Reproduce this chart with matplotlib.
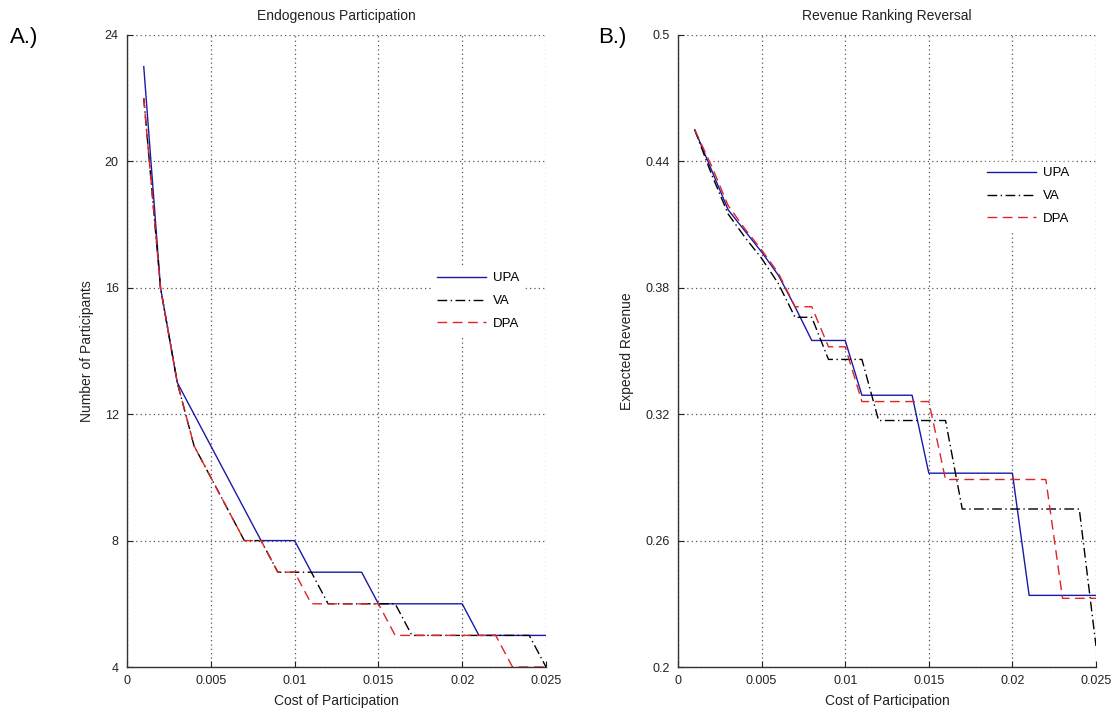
import numpy as np
import matplotlib.pyplot as plt

plt.rcParams['font.family'] = ['Liberation Sans', 'DejaVu Sans']

# cost grid (0.001 .. 0.025)
cost = [0.001, 0.002, 0.003, 0.004, 0.005, 0.006, 0.007, 0.008, 0.009, 0.010,
        0.011, 0.012, 0.013, 0.014, 0.015, 0.016, 0.017, 0.018, 0.019, 0.020,
        0.021, 0.022, 0.023, 0.024, 0.025]

# A.) number of participants
n_upa = [23, 16, 13, 12, 11, 10, 9, 8, 8, 8, 7, 7, 7, 7, 6, 6, 6, 6, 6, 6, 5, 5, 5, 5, 5]
n_va = [22, 16, 13, 11, 10, 9, 8, 8, 7, 7, 7, 6, 6, 6, 6, 6, 5, 5, 5, 5, 5, 5, 5, 5, 4]
n_dpa = [22, 16, 13, 11, 10, 9, 8, 8, 7, 7, 6, 6, 6, 6, 6, 5, 5, 5, 5, 5, 5, 5, 4, 4, 4]

# B.) expected revenue
r_upa = [0.455, 0.436, 0.417, 0.407, 0.397, 0.386, 0.371, 0.355, 0.355, 0.355,
         0.329, 0.329, 0.329, 0.329, 0.292, 0.292, 0.292, 0.292, 0.292, 0.292,
         0.234, 0.234, 0.234, 0.234, 0.234]
r_va = [0.455, 0.434, 0.415, 0.404, 0.394, 0.382, 0.366, 0.366, 0.346, 0.346,
        0.346, 0.317, 0.317, 0.317, 0.317, 0.317, 0.275, 0.275, 0.275, 0.275,
        0.275, 0.275, 0.275, 0.275, 0.21]
r_dpa = [0.455, 0.438, 0.419, 0.408, 0.398, 0.387, 0.371, 0.371, 0.352, 0.352,
         0.326, 0.326, 0.326, 0.326, 0.326, 0.289, 0.289, 0.289, 0.289, 0.289,
         0.289, 0.289, 0.2326, 0.2326, 0.2326]

xticks = [0, 0.005, 0.01, 0.015, 0.02, 0.025]
xtick_labels = ['0', '0.005', '0.01', '0.015', '0.02', '0.025']
yticks_a = [4, 8, 12, 16, 20, 24]
yticks_b = [0.2, 0.26, 0.32, 0.38, 0.44, 0.5]
ytick_labels_b = ['0.2', '0.26', '0.32', '0.38', '0.44', '0.5']

W, H = 1117, 719
fig = plt.figure(figsize=(W / 100, H / 100), dpi=100)

blue = '#1a1aa8'
red = '#e02424'
dash = (0, (7, 4))
dashdot = (0, (7, 2.5, 1, 2.5))


def style(ax):
    for s in ['top', 'right']:
        ax.spines[s].set_visible(False)
    for s in ['left', 'bottom']:
        ax.spines[s].set_color('#333333')
        ax.spines[s].set_linewidth(1.0)
    ax.tick_params(direction='in', length=4, labelsize=9, colors='#222222',
                   top=False, right=False, pad=6)
    ax.grid(True, color='#555555', linestyle=(0, (1, 2.5)), linewidth=0.9)
    ax.set_xlim(0, 0.025)
    ax.set_xticks(xticks)
    ax.set_xticklabels(xtick_labels)
    ax.set_xlabel('Cost of Participation', fontsize=10, color='#222222', labelpad=5)


def add_legend(ax, x, y):
    ax.legend(loc='center left', bbox_to_anchor=(x / W, 1 - y / H),
              bbox_transform=fig.transFigure, fontsize=9.5, frameon=True,
              fancybox=False, edgecolor='white', facecolor='white',
              framealpha=1, handlelength=3.7, handletextpad=0.5,
              labelspacing=0.8, borderaxespad=0)


axA = fig.add_axes([127 / W, 52 / H, 419 / W, 632 / H])
axA.plot(cost, n_upa, color=blue, lw=1.0, label='UPA')
axA.plot(cost, n_va, color='black', lw=1.0, linestyle=dashdot, label='VA')
axA.plot(cost, n_dpa, color=red, lw=1.0, linestyle=dash, label='DPA')
style(axA)
axA.set_ylim(4, 24)
axA.set_yticks(yticks_a)
axA.set_ylabel('Number of Participants', fontsize=10, color='#222222', labelpad=8)
axA.set_title('Endogenous Participation', fontsize=10, color='#222222', pad=11)
add_legend(axA, 432, 301)

axB = fig.add_axes([678 / W, 52 / H, 418 / W, 632 / H])
axB.plot(cost, r_upa, color=blue, lw=1.0, label='UPA')
axB.plot(cost, r_va, color='black', lw=1.0, linestyle=dashdot, label='VA')
axB.plot(cost, r_dpa, color=red, lw=1.0, linestyle=dash, label='DPA')
style(axB)
axB.set_ylim(0.2, 0.5)
axB.set_yticks(yticks_b)
axB.set_yticklabels(ytick_labels_b)
axB.set_ylabel('Expected Revenue', fontsize=10, color='#222222', labelpad=8)
axB.set_title('Revenue Ranking Reversal', fontsize=10, color='#222222', pad=11)
add_legend(axB, 982, 196)

fig.text(10 / W, 1 - 37 / H, 'A.)', fontsize=16, va='center', ha='left')
fig.text(598 / W, 1 - 37 / H, 'B.)', fontsize=16, va='center', ha='left')

fig.savefig('out.png', dpi=100)
